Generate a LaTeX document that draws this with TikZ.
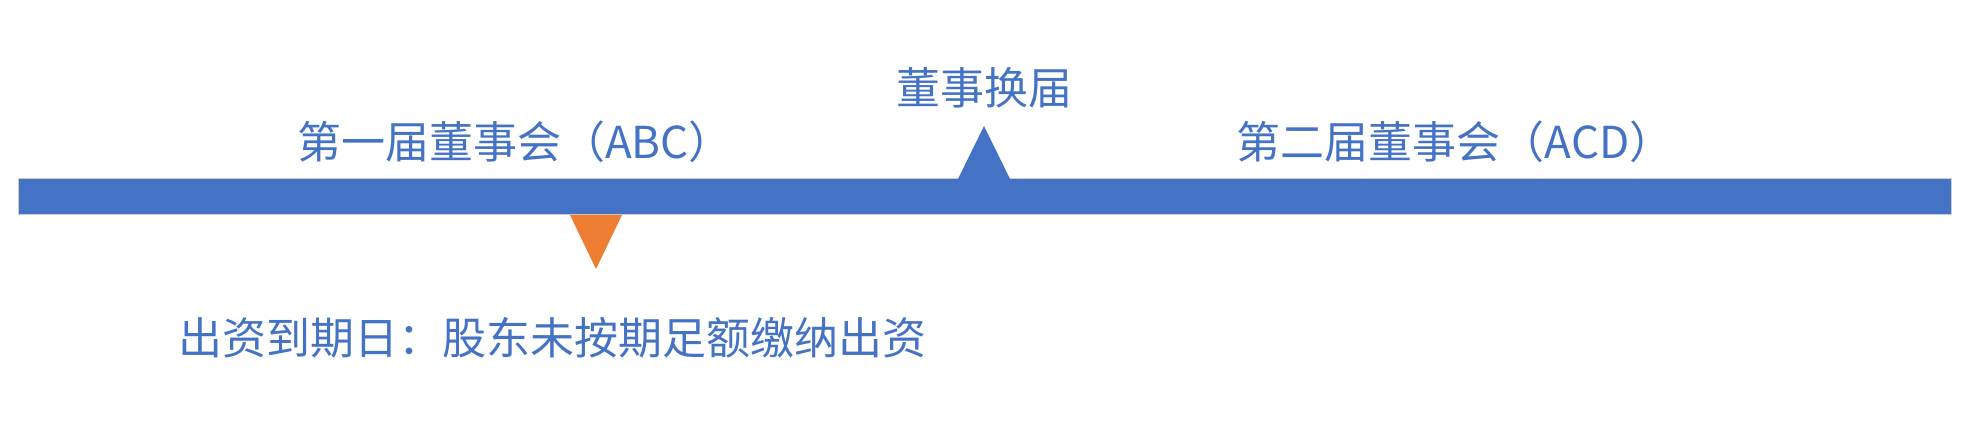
\documentclass[tikz,border=0pt]{standalone}
\usepackage{fontspec}
\newfontfamily\cjk{Noto Sans CJK SC}
\usepackage{tikz}
\definecolor{barblue}{HTML}{4472C4}
\definecolor{markorange}{HTML}{ED7D31}

\begin{document}
\begin{tikzpicture}
[every node/.style={inner sep=0pt}, label/.style={text=barblue, font=\cjk\fontsize{44pt}{52pt}\selectfont}]
\useasboundingbox (0pt, 0pt) rectangle (1976pt, -422pt);
\node (bar) [rectangle, minimum width=1933.0pt, minimum height=36.0pt, fill=barblue, line width=1.0pt, draw=black!20] at (984.5pt, -197.0pt) {};
\fill [barblue] (958.0pt, -179.0pt) -- (984.0pt, -126.0pt) -- (1010.0pt, -179.0pt) -- cycle;
\fill [markorange] (570.0pt, -215.0pt) -- (596.0pt, -269.0pt) -- (622.0pt, -215.0pt) -- cycle;
\node (first) [label] at (515.0pt, -142.0pt) {第一届董事会（ABC）};
\node (change) [label] at (984.0pt, -88.0pt) {董事换届};
\node (second) [label] at (1455.0pt, -142.0pt) {第二届董事会（ACD）};
\node (due) [label] at (552.5pt, -338.0pt) {出资到期日：股东未按期足额缴纳出资};
\end{tikzpicture}
\end{document}
